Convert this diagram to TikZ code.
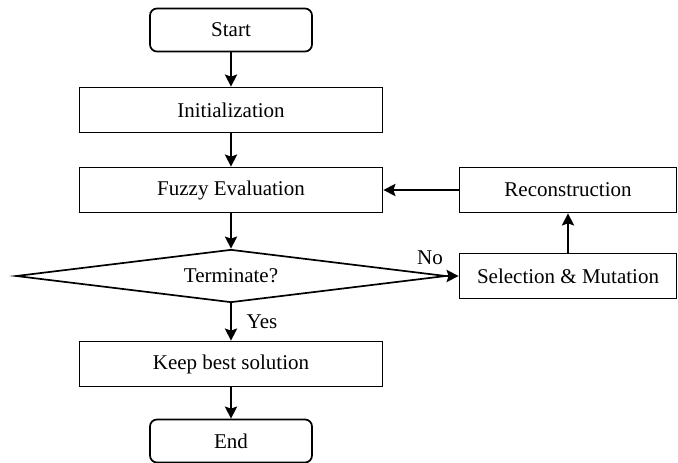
\documentclass[tikz,border=0pt]{standalone}
\usepackage{fontspec}
\setmainfont{Liberation Serif}
\usetikzlibrary{positioning, arrows.meta, shapes.geometric}

\begin{document}
\begin{tikzpicture}[
    x=1pt, y=-1pt,
    >={Stealth[length=12pt,width=12pt,inset=2pt]},
    every node/.style={font=\fontsize{21}{25}\selectfont},
    terminal/.style={rectangle, rounded corners=7pt, draw, line width=1.7pt,
        minimum width=162pt, minimum height=43pt, align=center},
    process/.style={rectangle, draw, line width=1.7pt,
        minimum width=303pt, minimum height=45pt, align=center},
    sideproc/.style={rectangle, draw, line width=1.7pt,
        minimum width=217pt, minimum height=45pt, align=center},
    decision/.style={diamond, draw, line width=1.7pt, aspect=8, inner sep=0pt,
        minimum width=430pt, minimum height=53pt, align=center},
    flow/.style={->, line width=2.6pt}
]
\useasboundingbox (0,0) rectangle (678,463);

\node[terminal] (start) at (231,30) {Start};
\node[process] (init) at (231,110) {Initialization};
\node[process] (fuzzy) at (231,190) {Fuzzy Evaluation};
\node[decision] (term) at (231,276) {Terminate?};
\node[process] (keep) at (231,364) {Keep best solution};
\node[terminal] (end) at (231,441) {End};

\node[sideproc] (recon) at (568,190) {Reconstruction};
\node[sideproc] (select) at (568,276) {Selection \& Mutation};

\draw[flow] (start) -- (init);
\draw[flow] (init) -- (fuzzy);
\draw[flow] (fuzzy) -- (term);
\draw[flow] (term) -- (keep);
\draw[flow] (keep) -- (end);
\draw[flow] (term.east) -- (select.west);
\draw[flow] (select) -- (recon);
\draw[flow] (recon) -- (fuzzy);

\node (yes) at (262,322) {Yes};
\node (no) at (430,258) {No};

\end{tikzpicture}
\end{document}
